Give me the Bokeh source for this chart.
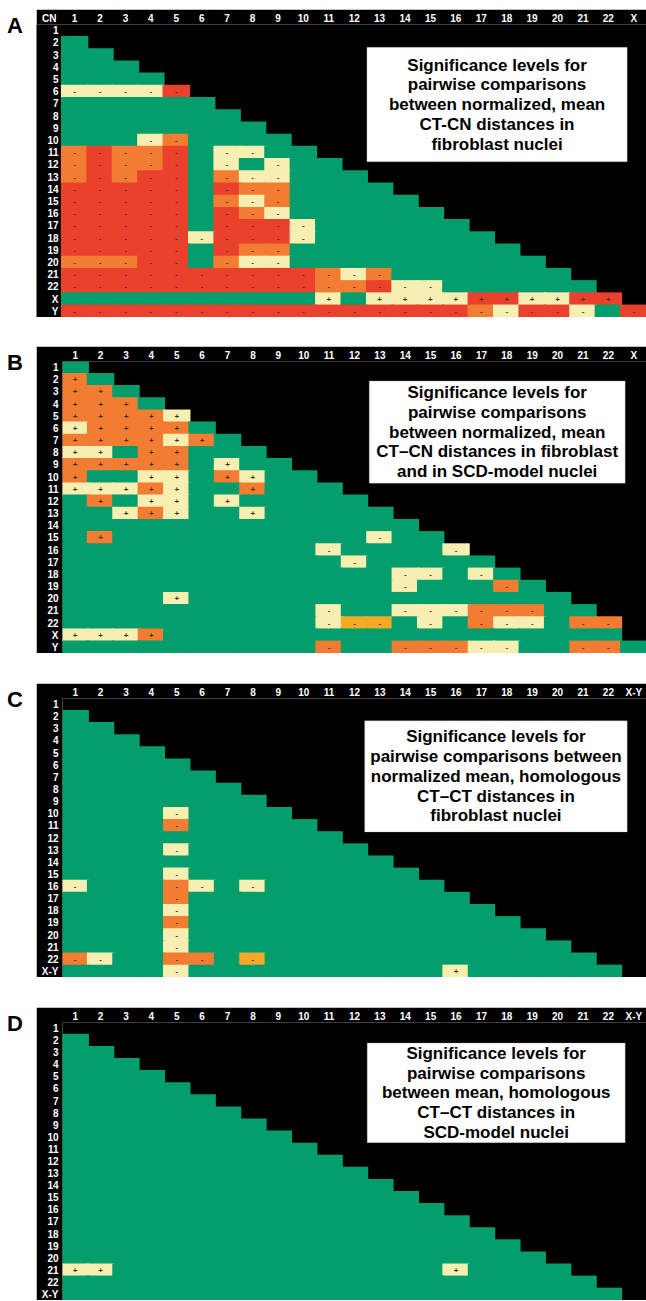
from bokeh.plotting import figure
from bokeh.models import ColumnDataSource, FactorRange, BoxAnnotation, Label, Div, Spacer
from bokeh.layouts import column, row
from bokeh.embed import file_html
from bokeh.resources import INLINE
from bokeh.core.properties import value

# ---------------- data ----------------
NUM = [str(i) for i in range(1, 23)]
A_cols = NUM + ["X"]
A_rows = NUM + ["X", "Y"]
B_cols = NUM + ["X"]
B_rows = NUM + ["X", "Y"]
C_cols = NUM + ["X-Y"]
C_rows = NUM + ["X-Y"]
D_cols = NUM + ["X-Y"]
D_rows = NUM + ["X-Y"]

# one string per row, one character per column (starting at column 1)
# G = not significant (green); R/O/Y/A = significance colour classes
# upper case -> "-" sign, lower case -> "+" sign
A_cells = [
    "", "G", "GG", "GGG", "GGGG", "YYYYR", "GGGGGG", "GGGGGGG", "GGGGGGGG",
    "GGGYOGGGG",
    "OROORGYYGG",
    "OROORGYGYGG",
    "ORORRGOYYGGG",
    "RRRRRGROOGGGG",
    "RRRRRGOYOGGGGG",
    "RRRRRGROYGGGGGG",
    "RRRRRGRRRYGGGGGG",
    "RRRRRYRRRYGGGGGGG",
    "RRRRRGROOGGGGGGGGG",
    "OOORRGOYYGGGGGGGGGG",
    "RRRRRRRRRROYOGGGGGGG",
    "RRRRRRRRRROORYYGGGGGG",
    "GGGGGGGGGGyGyyyyrryyrr",
    "RRRRRRRRRRRRRRRROYRRYGR",
]
B_cells = [
    "G", "oG", "ooG", "oooG", "ooooy", "yooooG", "ooooyoG", "yyGooGGG",
    "oooooGyGG",
    "oGGyyGoyGG",
    "yyyoyGGoGGG",
    "GoGyyGyGGGGG",
    "GGyoyGGyGGGGG",
    "GGGGGGGGGGGGGG",
    "GoGGGGGGGGGGYGG",
    "GGGGGGGGGGYGGGGY",
    "GGGGGGGGGGGYGGGGG",
    "GGGGGGGGGGGGGYYGYG",
    "GGGGGGGGGGGGGYGGGOG",
    "GGGGyGGGGGGGGGGGGGGG",
    "GGGGGGGGGGYGGYYYOOOGG",
    "GGGGGGGGGGYAAGYGOYYGOO",
    "yyyoGGGGGGGGGGGGGGGGGG",
    "GGGGGGGGGGOGGOOOYYGGOOG",
]
C_cells = [
    "", "G", "GG", "GGG", "GGGG", "GGGGG", "GGGGGG", "GGGGGGG", "GGGGGGGG",
    "GGGGYGGGG",
    "GGGGOGGGGG",
    "GGGGGGGGGGG",
    "GGGGYGGGGGGG",
    "GGGGGGGGGGGGG",
    "GGGGYGGGGGGGGG",
    "YGGGOYGYGGGGGGG",
    "GGGGOGGGGGGGGGGG",
    "GGGGYGGGGGGGGGGGG",
    "GGGGOGGGGGGGGGGGGG",
    "GGGGYGGGGGGGGGGGGGG",
    "GGGGYGGGGGGGGGGGGGGG",
    "OYGGOOGAGGGGGGGGGGGGG",
    "GGGGYGGGGGGGGGGyGGGGGG",
]
D_cells = [
    "", "G", "GG", "GGG", "GGGG", "GGGGG", "GGGGGG", "GGGGGGG", "GGGGGGGG",
    "GGGGGGGGG",
    "GGGGGGGGGG",
    "GGGGGGGGGGG",
    "GGGGGGGGGGGG",
    "GGGGGGGGGGGGG",
    "GGGGGGGGGGGGGG",
    "GGGGGGGGGGGGGGG",
    "GGGGGGGGGGGGGGGG",
    "GGGGGGGGGGGGGGGGG",
    "GGGGGGGGGGGGGGGGGG",
    "GGGGGGGGGGGGGGGGGGG",
    "yyGGGGGGGGGGGGGyGGGG",
    "GGGGGGGGGGGGGGGGGGGGG",
    "GGGGGGGGGGGGGGGGGGGGGG",
]

A_text = ["Significance levels for", "pairwise comparisons", "between normalized, mean",
          "CT-CN distances in", "fibroblast nuclei"]
B_text = ["Significance levels for", "pairwise comparisons", "between normalized, mean",
          "CT\u2013CN distances in fibroblast", "and in SCD-model nuclei"]
C_text = ["Significance levels for", "pairwise comparisons between", "normalized mean, homologous",
          "CT\u2013CT distances in", "fibroblast nuclei"]
D_text = ["Significance levels for", "pairwise comparisons", "between mean, homologous",
          "CT\u2013CT distances in", "SCD-model nuclei"]

COLORS = {"G": "#039e6c", "R": "#ea412d", "O": "#f27d32", "Y": "#f6efb1", "A": "#f6a925"}
FONT = "Liberation Sans"


def make_panel(cols, rows, cells, box, lines, height, top, corner=None):
    xs, ys, fc = [], [], []
    sx, sy, st = [], [], []
    for rname, s in zip(rows, cells):
        for cname, ch in zip(cols, s):
            xs.append(cname)
            ys.append(rname)
            fc.append(COLORS[ch.upper()])
            if ch.upper() != "G":
                sx.append(cname)
                sy.append(rname)
                st.append("+" if ch.islower() else "-")
    xf = ([corner] if corner else []) + cols
    shift = 1 if corner else 0
    p = figure(width=610, height=height,
               x_range=FactorRange(factors=xf),
               y_range=FactorRange(factors=list(reversed(rows))),
               x_axis_location="above", output_backend="svg", toolbar_location=None,
               min_border_left=0 if corner else 26, min_border_top=top,
               min_border_right=0, min_border_bottom=0)
    p.background_fill_color = "black"
    p.border_fill_color = "black"
    p.outline_line_color = None
    p.grid.visible = False
    p.rect(x="x", y="y", width=1.08, height=1.12, fill_color="c", line_color=None,
           source=ColumnDataSource(dict(x=xs, y=ys, c=fc)))
    p.text(x="x", y="y", text="t", source=ColumnDataSource(dict(x=sx, y=sy, t=st)),
           text_align="center", text_baseline="middle", text_font_size="8px",
           text_font_style="bold", text_color="#3a3325", text_font=value(FONT))
    for ax in (p.xaxis[0], p.yaxis[0]):
        ax.axis_line_color = None
        ax.major_tick_line_color = None
        ax.minor_tick_line_color = None
        ax.major_tick_out = 0
        ax.major_tick_in = 0
        ax.major_label_text_color = "white"
        ax.major_label_text_font_style = "bold"
        ax.major_label_text_font_size = "10px"
        ax.major_label_text_font = FONT
    p.xaxis[0].major_label_standoff = 1
    p.yaxis[0].major_label_standoff = -22 if corner else 4
    l, r, t, b = box
    l, r = l + shift, r + shift
    p.add_layout(BoxAnnotation(left=l, right=r, top=t, bottom=b, fill_color="white",
                               fill_alpha=1, line_color="#9a9a9a", line_width=1))
    p.add_layout(Label(x=(l + r) / 2, y=(t + b) / 2, text="\n".join(lines),
                       text_align="center", text_baseline="middle", text_font_size="17px",
                       text_font_style="bold", text_font=FONT, text_line_height=1.04,
                       text_color="black"))
    return p


def letter(ch, h):
    html = ('<div style="font-family:\'Liberation Sans\',Arial,sans-serif;font-size:22px;'
            'font-weight:bold;line-height:22px;padding:6px 0 0 7px;color:black">%s</div>' % ch)
    return Div(text=html, width=36, height=h, margin=(0, 0, 0, 0))


pA = make_panel(A_cols, A_rows, A_cells, (12.0, 22.24, 22.13, 12.75), A_text, 308, 13, corner="CN")
pB = make_panel(B_cols, B_rows, B_cells, (12.08, 22.16, 22.4, 14.0), B_text, 307, 13)
pC = make_panel(C_cols, C_rows, C_cells, (11.9, 22.24, 21.16, 12.0), C_text, 294, 12)
pD = make_panel(D_cols, D_rows, D_cells, (12.0, 22.16, 21.3, 13.06), D_text, 293, 12)

layout = column(
    Spacer(width=646, height=9),
    row(letter("A", 308), pA),
    Spacer(width=646, height=29),
    row(letter("B", 307), pB),
    Spacer(width=646, height=30),
    row(letter("C", 294), pC),
    Spacer(width=646, height=30),
    row(letter("D", 293), pD),
)

open("out.html", "w").write(file_html(layout, INLINE))
